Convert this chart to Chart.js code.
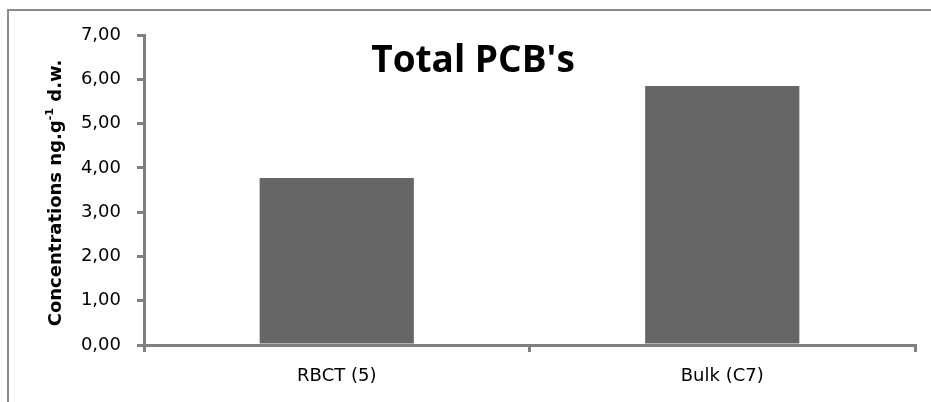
<!DOCTYPE html>
<html>
<head>
<meta charset="utf-8">
<script src="https://cdn.jsdelivr.net/npm/chart.js@4.4.1/dist/chart.umd.min.js"></script>
<style>
  html, body { margin: 0; padding: 0; background: #ffffff; }
  #wrap { width: 931px; height: 402px; }
</style>
</head>
<body>
<div id="wrap"><canvas id="chart" width="931" height="402"></canvas></div>
<script>
// Categories and values (ng.g-1 d.w.)
const categories = ['RBCT (5)', 'Bulk (C7)'];
const totalPCB = [3.77, 5.85];

// Value axis range
const yMin = 0;
const yMax = 7;
const yStep = 1;

// Texts
const chartTitle = "Total PCB's";
const yTitleMain = 'Concentrations ng.g';
const yTitleSup = '-1';
const yTitleEnd = ' d.w.';

const TITLE_FONT = "'Open Sans', 'DejaVu Sans', sans-serif";
const AXIS_FONT = "'DejaVu Sans', 'Open Sans', sans-serif";
const AXIS_GREY = '#808080';
const BAR_GREY = '#666666';

// Frame, chart title and rotated axis title with superscript
const decor = {
  id: 'decor',
  beforeDraw(chart) {
    const ctx = chart.ctx;
    ctx.save();
    ctx.strokeStyle = '#8c8c8c';
    ctx.lineWidth = 2;
    ctx.beginPath();
    ctx.moveTo(8, chart.height + 5);
    ctx.lineTo(8, 10);
    ctx.lineTo(chart.width + 5, 10);
    ctx.stroke();
    ctx.restore();
  },
  afterDraw(chart) {
    const ctx = chart.ctx;
    ctx.save();
    ctx.fillStyle = '#000000';
    ctx.font = "bold 37px " + TITLE_FONT;
    ctx.textAlign = 'center';
    ctx.textBaseline = 'alphabetic';
    ctx.fillText(chartTitle, 473, 72);
    ctx.restore();

    ctx.save();
    ctx.fillStyle = '#000000';
    ctx.translate(61, 193);
    ctx.rotate(-Math.PI / 2);
    ctx.textBaseline = 'alphabetic';
    ctx.textAlign = 'left';
    const mainFont = "bold 18px " + AXIS_FONT;
    const supFont = "bold 11px " + AXIS_FONT;
    ctx.font = mainFont;
    const w1 = ctx.measureText(yTitleMain).width;
    const w3 = ctx.measureText(yTitleEnd).width;
    ctx.font = supFont;
    const w2 = ctx.measureText(yTitleSup).width;
    let x = -(w1 + w2 + w3) / 2;
    ctx.font = mainFont;
    ctx.fillText(yTitleMain, x, 0);
    x += w1;
    ctx.font = supFont;
    ctx.fillText(yTitleSup, x, -8);
    x += w2;
    ctx.font = mainFont;
    ctx.fillText(yTitleEnd, x, 0);
    ctx.restore();
  }
};

new Chart(document.getElementById('chart'), {
  type: 'bar',
  data: {
    labels: categories,
    datasets: [{
      label: chartTitle,
      data: totalPCB,
      backgroundColor: BAR_GREY,
      borderWidth: 0,
      categoryPercentage: 1.0,
      barPercentage: 0.4
    }]
  },
  options: {
    responsive: false,
    animation: false,
    events: [],
    layout: { padding: { left: 0, right: 16, top: 35, bottom: 0 } },
    plugins: {
      legend: { display: false },
      title: { display: false },
      tooltip: { enabled: false }
    },
    scales: {
      x: {
        offset: true,
        grid: {
          offset: true,
          drawOnChartArea: false,
          drawTicks: true,
          tickLength: 7,
          color: AXIS_GREY,
          lineWidth: 3
        },
        border: { display: true, color: AXIS_GREY, width: 3 },
        ticks: {
          color: '#000000',
          font: { family: AXIS_FONT, size: 18 },
          padding: 14,
          maxRotation: 0
        },
        afterFit(scale) { scale.height = 402 - 345; }
      },
      y: {
        min: yMin,
        max: yMax,
        grid: {
          drawOnChartArea: false,
          drawTicks: true,
          tickLength: 7,
          color: AXIS_GREY,
          lineWidth: 3
        },
        border: { display: true, color: AXIS_GREY, width: 3 },
        ticks: {
          stepSize: yStep,
          color: '#000000',
          font: { family: AXIS_FONT, size: 18 },
          padding: 16,
          callback: (v) => Number(v).toFixed(2).replace('.', ',')
        },
        afterFit(scale) { scale.width = 144; }
      }
    }
  },
  plugins: [decor]
});
</script>
</body>
</html>
